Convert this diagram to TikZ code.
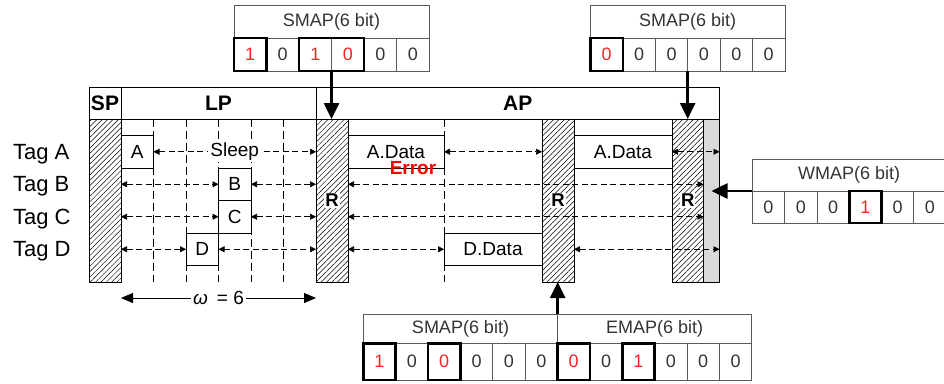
\documentclass[tikz,border=0pt]{standalone}
\usepackage{fontspec}
\setmainfont{Liberation Sans}
\usetikzlibrary{arrows.meta,patterns.meta}
\definecolor{mapline}{HTML}{5A5A5A}
\definecolor{dig}{HTML}{333333}
\definecolor{bitred}{HTML}{FF2222}
\definecolor{errred}{HTML}{FF0000}
\definecolor{colgray}{HTML}{D9D9D9}
\begin{document}
\begin{tikzpicture}[x=1pt,y=-1pt,
  every node/.style={inner sep=0pt,outer sep=0pt},
  hdr/.style={draw,line width=0.8pt,anchor=north west,minimum height=32pt,font=\bfseries\fontsize{21}{24}\selectfont},
  hcol/.style={draw,line width=0.8pt,anchor=north west,minimum height=163pt,pattern={Lines[angle=45,distance=3.8pt,line width=0.5pt]}},
  gcol/.style={draw,line width=0.8pt,anchor=north west,minimum height=163pt,fill=colgray},
  slotbox/.style={draw,line width=0.8pt,fill=white,anchor=north west,minimum height=32.5pt,font=\fontsize{19}{22}\selectfont},
  taglab/.style={anchor=base west,font=\fontsize{22}{25}\selectfont},
  rlab/.style={fill=white,inner sep=1pt,font=\bfseries\fontsize{18.5}{21}\selectfont},
  vdash/.style={line width=0.6pt,dash pattern=on 8pt off 4pt},
  darr/.style={line width=0.6pt,dash pattern=on 6pt off 3.5pt,{Triangle[length=6pt,width=6pt]}-{Triangle[length=6pt,width=6pt]}},
  bigarr/.style={line width=2.6pt,-{Triangle[length=16pt,width=15pt]}},
  warr/.style={line width=0.8pt,{Triangle[length=12pt,width=10pt]}-{Triangle[length=12pt,width=10pt]}},
  mtitle/.style={draw=mapline,line width=0.7pt,anchor=north west,text=dig,font=\fontsize{18}{21}\selectfont},
  mcell/.style={draw=mapline,line width=0.7pt,anchor=north west,font=\fontsize{18}{21}\selectfont},
  boldr/.style={draw=black,line width=2.6pt}
]
\useasboundingbox (0,0) rectangle (944,383);

% headers
\node[hdr,minimum width=32pt] (sph) at (89,87) {SP};
\node[hdr,minimum width=195pt] (lph) at (121,87) {LP};
\node[hdr,minimum width=403.5pt] (aph) at (316,87) {AP};

% columns
\node[hcol,minimum width=32pt] (spc) at (89,119) {};
\node[hcol,minimum width=32pt] (r1) at (316,119) {};
\node[hcol,minimum width=32pt] (r2) at (542,119) {};
\node[hcol,minimum width=31.5pt] (r3) at (672,119) {};
\node[gcol,minimum width=16pt] (gc) at (703.5,119) {};
\node[rlab] (r1l) at (r1.center) {R};
\node[rlab] (r2l) at (r2.center) {R};
\node[rlab] (r3l) at (r3.center) {R};

% slot grid lines
\foreach \x in {153.5,186,218.5,251,283.5,444}
  \draw[vdash] (\x,119) -- (\x,282);

% tag labels
\node[taglab] (ta) at (13,159) {Tag A};
\node[taglab] (tb) at (13,191.5) {Tag B};
\node[taglab] (tc) at (13,224) {Tag C};
\node[taglab] (td) at (13,256.5) {Tag D};

% slot boxes
\node[slotbox,minimum width=32.5pt] (boxA) at (121,135.5) {A};
\node[slotbox,minimum width=32.5pt] (boxB) at (218.5,168) {B};
\node[slotbox,minimum width=32.5pt] (boxC) at (218.5,200.5) {C};
\node[slotbox,minimum width=32.5pt] (boxD) at (186,233) {D};
\node[slotbox,minimum width=96pt] (ad1) at (348,135.5) {A.Data};
\node[slotbox,minimum width=98pt] (ad2) at (574,135.5) {A.Data};
\node[slotbox,minimum width=98pt] (dd) at (444,233) {D.Data};
\node[text=errred,font=\bfseries\fontsize{19}{22}\selectfont] (err) at (413,168.5) {Error};

% row arrows
\draw[darr] (boxA.east) -- node[fill=white,inner xsep=2pt,inner ysep=1pt,font=\fontsize{19}{22}\selectfont] (sleep) {Sleep} (boxA.east -| r1.west);
\draw[darr] (ad1.east) -- (ad1.east -| r2.west);
\draw[darr] (ad2.east -| r3.west) -- (ad2.east -| gc.east);

\draw[darr] (spc.east |- boxB.west) -- (boxB.west);
\draw[darr] (boxB.east) -- (boxB.east -| r1.west);
\draw[darr] (r1.east |- boxB.west) -- (r3.east |- boxB.west);

\draw[darr] (spc.east |- boxC.west) -- (boxC.west);
\draw[darr] (boxC.east) -- (boxC.east -| r1.west);
\draw[darr] (r1.east |- boxC.west) -- (r3.east |- boxC.west);

\draw[darr] (spc.east |- boxD.west) -- (boxD.west);
\draw[darr] (boxD.east) -- (boxD.east -| r1.west);
\draw[darr] (r1.east |- dd.west) -- (dd.west);
\draw[darr] (r2.east |- dd.east) -- (gc.east |- dd.east);

% window arrow
\coordinate (w1) at (121,298);
\coordinate (w2) at (316,298);
\draw[warr] (w1) -- node[fill=white,inner xsep=2pt,font=\fontsize{19}{22}\selectfont] (wlab) {\textit{ω}\hspace{9pt}= 6} (w2);

% map 1 (top left)
\node[mtitle,minimum width=195pt,minimum height=33pt] (m1t) at (234,5) {SMAP(6 bit)};
\foreach \b/\c [count=\i] in {1/bitred,0/dig,1/bitred,0/bitred,0/dig,0/dig}
  \node[mcell,text=\c,minimum width=32.5pt,minimum height=33pt] (m1c\i) at ({234+32.5*(\i-1)},38) {\b};
\draw[boldr] (m1c1.north west) rectangle (m1c1.south east);
\draw[boldr] (m1c3.north west) rectangle (m1c4.south east);

% map 2 (top right)
\node[mtitle,minimum width=194.4pt,minimum height=33pt] (m2t) at (590.5,5) {SMAP(6 bit)};
\foreach \b/\c [count=\i] in {0/bitred,0/dig,0/dig,0/dig,0/dig,0/dig}
  \node[mcell,text=\c,minimum width=32.4pt,minimum height=33pt] (m2c\i) at ({590.5+32.4*(\i-1)},38) {\b};
\draw[boldr] (m2c1.north west) rectangle (m2c1.south east);

% WMAP
\node[mtitle,minimum width=193.8pt,minimum height=32pt] (wt) at (752.3,159) {WMAP(6 bit)};
\foreach \b/\c [count=\i] in {0/dig,0/dig,0/dig,1/bitred,0/dig,0/dig}
  \node[mcell,text=\c,minimum width=32.3pt,minimum height=32pt] (wc\i) at ({752.3+32.3*(\i-1)},191) {\b};
\draw[boldr] (wc4.north west) rectangle (wc4.south east);

% bottom SMAP / EMAP
\node[mtitle,minimum width=194.4pt,minimum height=29.5pt] (bst) at (363.3,314) {SMAP(6 bit)};
\node[mtitle,minimum width=194pt,minimum height=29.5pt] (bet) at (557.7,314) {EMAP(6 bit)};
\foreach \b/\c [count=\i] in {1/bitred,0/dig,0/bitred,0/dig,0/dig,0/dig,0/bitred,0/dig,1/bitred,0/dig,0/dig,0/dig}
  \node[mcell,text=\c,minimum width=32.37pt,minimum height=36.5pt] (bc\i) at ({363.3+32.37*(\i-1)},343.5) {\b};
\draw[boldr] (bc1.north west) rectangle (bc1.south east);
\draw[boldr] (bc3.north west) rectangle (bc3.south east);
\draw[boldr] (bc7.north west) rectangle (bc7.south east);
\draw[boldr] (bc9.north west) rectangle (bc9.south east);

% big arrows
\draw[bigarr] (m1c3.south east) -- (m1c3.south east |- r1.north);
\draw[bigarr] (m2c3.south east) -- (m2c3.south east |- r3.north);
\draw[bigarr] (wc1.north west) -- (gc.center |- wc1.north west);
\draw[bigarr] (bst.north east) -- (bst.north east |- r2.south);
\end{tikzpicture}
\end{document}
